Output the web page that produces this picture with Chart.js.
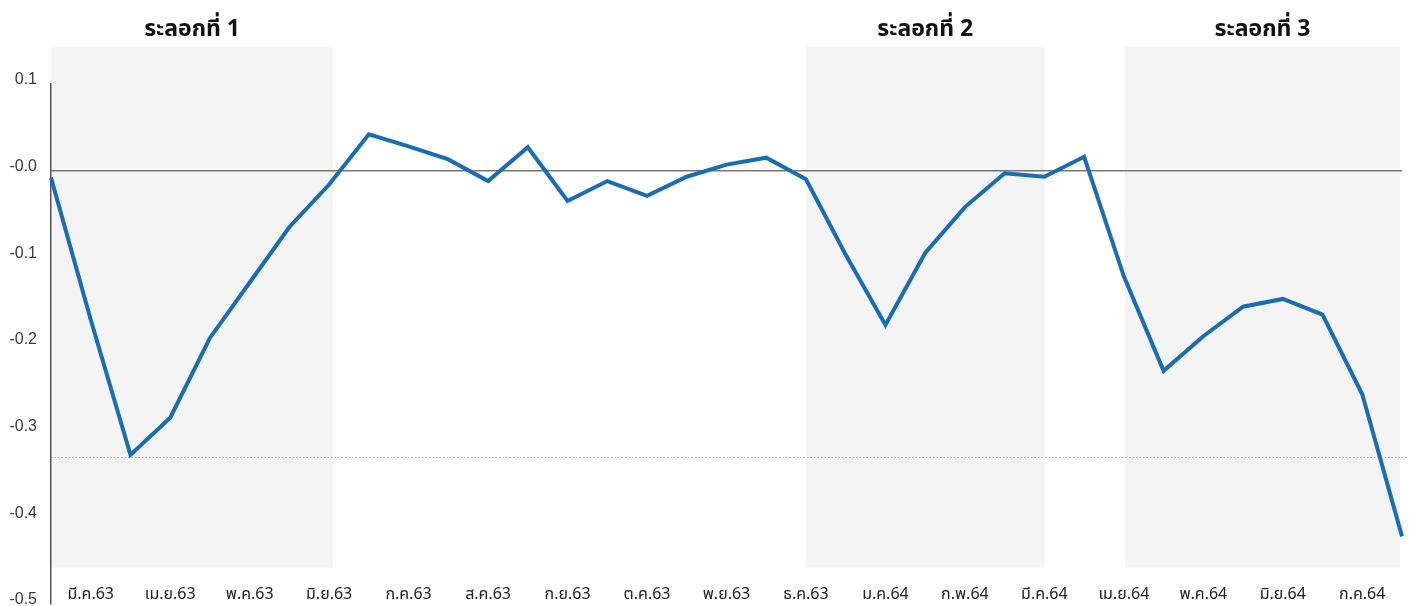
<!DOCTYPE html>
<html>
<head>
<meta charset="utf-8">
<script src="https://cdn.jsdelivr.net/npm/chart.js@4"></script>
<style>
  html, body { margin: 0; padding: 0; background: #fff; overflow: hidden; }
  #wrap { width: 1413px; height: 606px; position: relative; }
</style>
</head>
<body>
<div id="wrap"><canvas id="chart"></canvas></div>
<script>
// DATA
const months = ["มี.ค.63", "เม.ย.63", "พ.ค.63", "มิ.ย.63", "ก.ค.63", "ส.ค.63", "ก.ย.63", "ต.ค.63",
  "พ.ย.63", "ธ.ค.63", "ม.ค.64", "ก.พ.64", "มี.ค.64", "เม.ย.64", "พ.ค.64", "มิ.ย.64", "ก.ค.64"];

// half-month points, month label sits on every second point
const values = [-0.008, -0.172, -0.328, -0.285, -0.193, -0.129, -0.065, -0.016, 0.042, 0.028,
  0.013, -0.012, 0.027, -0.035, -0.012, -0.029, -0.007, 0.007, 0.015, -0.010,
  -0.097, -0.178, -0.095, -0.042, -0.003, -0.007, 0.016, -0.122, -0.231, -0.191,
  -0.157, -0.148, -0.166, -0.258, -0.422];

const waveNames = ["ระลอกที่ 1", "ระลอกที่ 2", "ระลอกที่ 3"];
const waveStart = [0, 19, 27.03];
const waveEnd = [7.1, 25, 33.95];
const bandTop = 0.143;
const bandBottom = -0.458;
const refLine = -0.33;

const labels = values.map((v, i) => (i % 2 === 1 ? months[(i - 1) / 2] : ""));

const thaiFont = '"Noto Sans Thai", "Noto Sans", "Liberation Sans", sans-serif';

// BANDS + TITLES + DOTTED LINE
const wavePlugin = {
  id: "waves",
  beforeDraw(chart) {
    const { ctx, scales: { x, y } } = chart;
    ctx.save();
    ctx.fillStyle = "#f4f4f4";
    for (let i = 0; i < waveNames.length; i++) {
      const x1 = x.getPixelForValue(waveStart[i]);
      const x2 = x.getPixelForValue(waveEnd[i]);
      const y1 = y.getPixelForValue(bandTop);
      const y2 = y.getPixelForValue(bandBottom);
      ctx.fillRect(x1, y1, x2 - x1, y2 - y1);
    }
    ctx.fillStyle = "#111";
    ctx.font = "bold 23px " + thaiFont;
    ctx.textAlign = "center";
    ctx.textBaseline = "middle";
    for (let i = 0; i < waveNames.length; i++) {
      const cx = (x.getPixelForValue(waveStart[i]) + x.getPixelForValue(waveEnd[i])) / 2;
      ctx.fillText(waveNames[i], cx, 31);
    }
    // dotted line
    const ry = Math.round(y.getPixelForValue(refLine)) + 0.5;
    ctx.strokeStyle = "#a8a8a8";
    ctx.lineWidth = 1;
    ctx.setLineDash([1.5, 2]);
    ctx.beginPath();
    ctx.moveTo(x.left, ry);
    ctx.lineTo(chart.width - 4, ry);
    ctx.stroke();
    ctx.restore();
  }
};

new Chart(document.getElementById("chart"), {
  type: "line",
  data: {
    labels,
    datasets: [{
      data: values,
      borderColor: "#1b6db3",
      borderWidth: 4,
      pointRadius: 0,
      tension: 0,
      borderJoinStyle: "miter"
    }]
  },
  options: {
    responsive: true,
    maintainAspectRatio: false,
    animation: false,
    layout: { padding: { top: 84, right: 11, left: 0, bottom: 0 } },
    plugins: {
      legend: { display: false },
      tooltip: { enabled: false }
    },
    scales: {
      x: {
        offset: false,
        grid: { display: false, drawTicks: false },
        border: { display: false },
        afterFit(scale) { scale.height = 2; },
        ticks: {
          autoSkip: false,
          maxRotation: 0,
          mirror: true,
          padding: -1,
          color: "#222",
          font: { size: 16, family: thaiFont },
          callback: (v, i) => labels[i]
        }
      },
      y: {
        min: -0.5,
        max: 0.1,
        afterFit(scale) {
          scale.width = 51;
          scale.paddingTop = 0;
          scale.paddingBottom = 0;
        },
        grid: {
          drawTicks: false,
          lineWidth: 1.5,
          color: (c) => (c.tick && Math.abs(c.tick.value) < 1e-9 ? "#777" : "rgba(0,0,0,0)")
        },
        border: { display: true, color: "#555", width: 1.5 },
        ticks: {
          stepSize: 0.1,
          padding: 14,
          labelOffset: -4,
          color: "#3a3a3a",
          font: { size: 16, family: '"Liberation Sans", Arial, sans-serif' },
          callback: (v) => (Math.abs(v) < 1e-9 ? "-0.0" : v.toFixed(1))
        }
      }
    }
  },
  plugins: [wavePlugin]
});
</script>
</body>
</html>
